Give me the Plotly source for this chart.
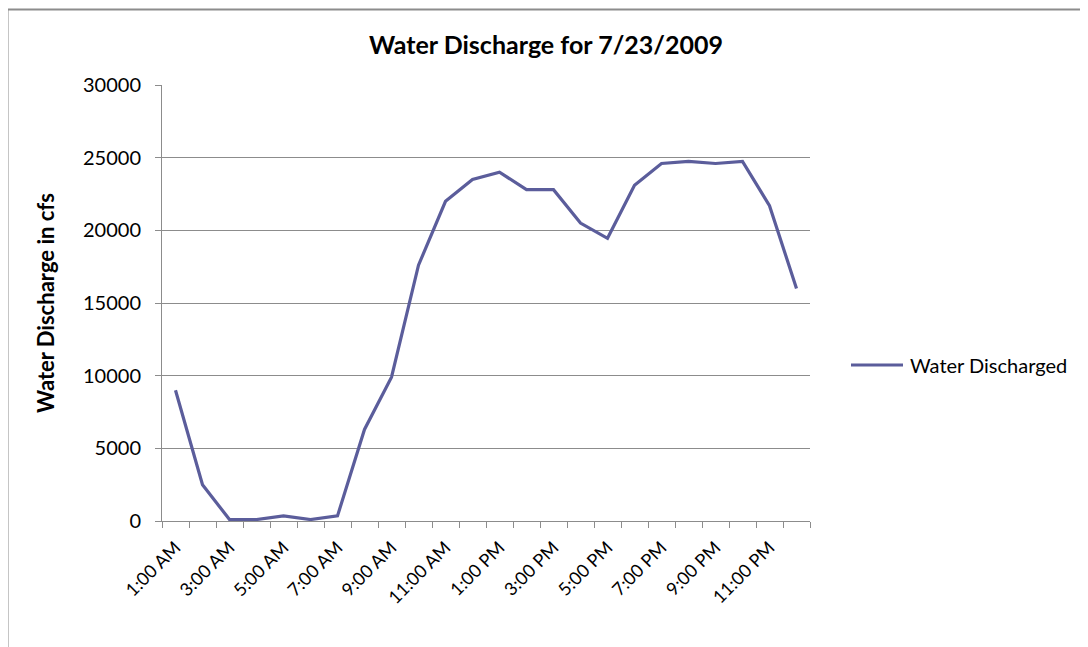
import plotly.graph_objects as go

hours = [
    "1:00 AM", "2:00 AM", "3:00 AM", "4:00 AM", "5:00 AM", "6:00 AM",
    "7:00 AM", "8:00 AM", "9:00 AM", "10:00 AM", "11:00 AM", "12:00 PM",
    "1:00 PM", "2:00 PM", "3:00 PM", "4:00 PM", "5:00 PM", "6:00 PM",
    "7:00 PM", "8:00 PM", "9:00 PM", "10:00 PM", "11:00 PM", "12:00 AM",
]
discharge = [
    9000, 2500, 100, 100, 350, 100,
    350, 6300, 9900, 17600, 22000, 23500,
    24000, 22800, 22800, 20500, 19450, 23100,
    24600, 24750, 24600, 24750, 21700, 16000,
]
series_name = "Water Discharged"
# only every other hour gets a label, like the original
tick_text = [h if i % 2 == 0 else "" for i, h in enumerate(hours)]
y_ticks = [0, 5000, 10000, 15000, 20000, 25000, 30000]

FONT = "Lato, Calibri, sans-serif"
LINE = "#5B5D9B"
GRID = "#8C8C8C"

# the page puts the figure 8px in from the window corner, so the
# margins are 8px smaller than the target pixel positions
L, T, PW, PH = 154, 77, 648, 436
W, H = 1088, 647


def px(x):
    return (x - 162) / PW


def py(y):
    return (521 - y) / PH


pos = list(range(len(hours)))
# tick marks sit between the hours, labels sit on them
edges = [p - 0.5 for p in pos] + [pos[-1] + 0.5]

fig = go.Figure()
fig.add_trace(go.Scatter(
    x=pos,
    y=discharge,
    text=hours,
    mode="lines",
    name=series_name,
    line=dict(color=LINE, width=3.2),
    hovertemplate="%{text}: %{y}<extra></extra>",
))

fig.update_xaxes(
    range=[-0.5, len(hours) - 0.5],
    tickmode="array",
    tickvals=pos,
    ticktext=tick_text,
    tickangle=-45,
    ticks="",
    ticklabelstandoff=8,
    showline=True,
    linecolor=GRID,
    linewidth=1,
    showgrid=False,
    zeroline=False,
    minor=dict(tickmode="array", tickvals=edges, ticks="outside",
               ticklen=6, tickcolor=GRID, showgrid=False),
    tickfont=dict(family=FONT, size=18, color="#000000"),
)
fig.update_yaxes(
    range=[0, 30000],
    tickvals=y_ticks,
    tickformat="d",
    ticks="outside",
    ticklen=6,
    tickcolor=GRID,
    ticklabelstandoff=10,
    showline=True,
    linecolor=GRID,
    linewidth=1,
    gridcolor=GRID,
    gridwidth=1,
    zeroline=False,
    tickfont=dict(family=FONT, size=20, color="#000000"),
    title=dict(text="<b>Water Discharge in cfs</b>", standoff=22,
               font=dict(family=FONT, size=22, color="#000000")),
)

fig.update_layout(
    width=W,
    height=H,
    margin=dict(l=L, r=W - L - PW, t=T, b=H - T - PH),
    plot_bgcolor="white",
    paper_bgcolor="white",
    title=dict(
        text="<b>Water Discharge for 7/23/2009</b>",
        x=(546 - 8) / W, xanchor="center", xref="container",
        y=1 - (45 - 8) / H, yanchor="middle", yref="container",
        font=dict(family=FONT, size=25, color="#000000"),
    ),
    showlegend=False,
    shapes=[
        # chart-area border that runs off the right and bottom edges
        dict(type="rect", xref="paper", yref="paper",
             x0=px(7.5), x1=px(1100), y0=py(660), y1=py(9.5),
             line=dict(color=GRID, width=2), layer="below"),
        # legend key
        dict(type="line", xref="paper", yref="paper",
             x0=px(851), x1=px(903), y0=py(365), y1=py(365),
             line=dict(color=LINE, width=3.2)),
    ],
    annotations=[
        dict(text=series_name, xref="paper", yref="paper",
             x=px(908), y=py(365), xanchor="left", yanchor="middle",
             showarrow=False,
             font=dict(family=FONT, size=20, color="#000000")),
    ],
)

fig.write_html("out.html")
